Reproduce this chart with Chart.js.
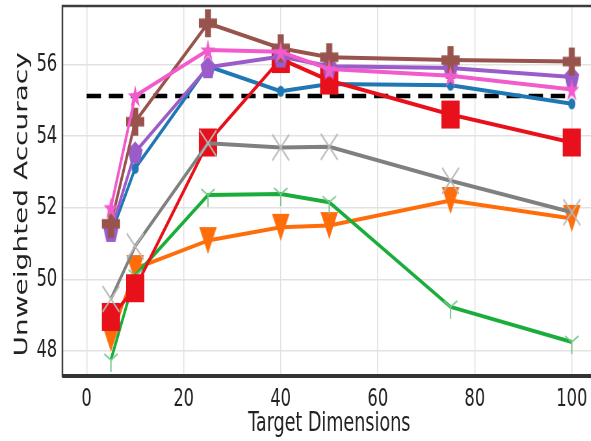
<!DOCTYPE html>
<html>
<head>
<meta charset="utf-8">
<script src="https://cdn.jsdelivr.net/npm/chart.js@4/dist/chart.umd.min.js"></script>
<style>
  html, body { margin: 0; padding: 0; background: #fff; overflow: hidden; }
  /* the figure is laid out wide, then squeezed horizontally */
  #wrap { position: absolute; left: 0; top: 0; width: 920px; height: 441px;
          transform: scaleX(0.65); transform-origin: 0 0; }
</style>
</head>
<body>
<div id="wrap"><canvas id="c"></canvas></div>
<script>
// ---- data ----
const dims = [5, 10, 25, 40, 50, 75, 100];
const xTicks = [0, 20, 40, 60, 80, 100];
const yTicks = [48, 50, 52, 54, 56];
const baselineDims = [0, 100];
const baselineAcc = 55.12;

const accBlue   = [51.25, 53.10, 55.95, 55.25, 55.45, 55.42, 54.90];
const accOrange = [48.35, 50.30, 51.08, 51.45, 51.50, 52.20, 51.70];
const accGreen  = [47.75, 50.10, 52.35, 52.38, 52.15, 49.23, 48.25];
const accRed    = [48.95, 49.75, 53.82, 56.15, 55.55, 54.60, 53.82];
const accPurple = [51.35, 53.55, 55.92, 56.22, 55.95, 55.90, 55.65];
const accBrown  = [51.55, 54.40, 57.15, 56.45, 56.20, 56.12, 56.08];
const accPink   = [52.00, 55.12, 56.40, 56.35, 55.87, 55.68, 55.30];
const accGray   = [49.45, 50.92, 53.80, 53.68, 53.70, 52.75, 51.87];

// ---- marker sprites ----
function sprite(size, draw) {
  const c = document.createElement('canvas');
  c.width = size; c.height = size;
  const g = c.getContext('2d');
  g.translate(size / 2, size / 2);
  draw(g);
  return c;
}
function polygon(g, pts, color) {
  g.beginPath();
  pts.forEach((p, i) => i ? g.lineTo(p[0], p[1]) : g.moveTo(p[0], p[1]));
  g.closePath();
  g.fillStyle = color; g.fill();
}
const mkCircle = (r, color) => sprite(Math.ceil(2 * r + 2), g => {
  g.beginPath(); g.arc(0, 0, r, 0, Math.PI * 2); g.fillStyle = color; g.fill();
});
const mkSquare = (s, color) => sprite(s + 2, g => { g.fillStyle = color; g.fillRect(-s / 2, -s / 2, s, s); });
const mkTriDown = (s, color) => sprite(s + 2, g => polygon(g, [[0, s / 2], [-s / 2, -s / 2], [s / 2, -s / 2]], color));
const mkPlus = (s, color) => sprite(s + 2, g => {
  const a = s / 2, b = s / 6;
  polygon(g, [[-b, -a], [b, -a], [b, -b], [a, -b], [a, b], [b, b], [b, a], [-b, a], [-b, b], [-a, b], [-a, -b], [-b, -b]], color);
});
const mkStar = (r, color) => sprite(Math.ceil(2 * r + 2), g => {
  const pts = [];
  for (let i = 0; i < 10; i++) {
    const rr = i % 2 ? r * 0.381966 : r;
    const ang = -Math.PI / 2 + i * Math.PI / 5;
    pts.push([rr * Math.cos(ang), rr * Math.sin(ang) + r * 0.1]);
  }
  polygon(g, pts, color);
});
const mkPentagon = (r, color) => sprite(Math.ceil(2 * r + 2), g => {
  const pts = [];
  for (let i = 0; i < 5; i++) {
    const ang = -Math.PI / 2 + i * 2 * Math.PI / 5;
    pts.push([r * Math.cos(ang), r * Math.sin(ang) + r * 0.1]);
  }
  polygon(g, pts, color);
});
const mkX = (h, color, lw) => sprite(2 * h + 4, g => {
  g.strokeStyle = color; g.lineWidth = lw;
  g.beginPath(); g.moveTo(-h, -h); g.lineTo(h, h); g.moveTo(h, -h); g.lineTo(-h, h); g.stroke();
});
const mkTriLines = (r, color, lw) => sprite(2 * r + 4, g => {
  g.strokeStyle = color; g.lineWidth = lw;
  g.beginPath();
  g.moveTo(0, 0); g.lineTo(0, r);
  g.moveTo(0, 0); g.lineTo(-0.866 * r, -0.5 * r);
  g.moveTo(0, 0); g.lineTo(0.866 * r, -0.5 * r);
  g.stroke();
});

const C = {
  blue: '#1f77b4', orange: '#ff6d0a', green: '#1aad3a', red: '#e8101a',
  purple: '#9a5cc8', brown: '#98544c', pink: '#f25bcb', gray: '#808080'
};

function series(label, values, color, marker, order) {
  return {
    label,
    data: dims.map((x, i) => ({ x, y: values[i] })),
    borderColor: color,
    backgroundColor: color,
    borderWidth: 4,
    pointStyle: marker,
    pointRadius: 10,
    pointHoverRadius: 10,
    order
  };
}

const datasets = [
  series('Gray',   accGray,   C.gray,   mkX(13, '#b8b8b8', 2), 1),
  series('Pink',   accPink,   C.pink,   mkStar(12, C.pink), 2),
  series('Brown',  accBrown,  C.brown,  mkPlus(28, C.brown), 3),
  series('Purple', accPurple, C.purple, mkPentagon(12, C.purple), 4),
  series('Red',    accRed,    C.red,    mkSquare(28, C.red), 5),
  series('Green',  accGreen,  C.green,  mkTriLines(12, '#78c88a', 2), 6),
  series('Orange', accOrange, C.orange, mkTriDown(27, C.orange), 7),
  series('Blue',   accBlue,   C.blue,   mkCircle(5.5, C.blue), 8),
  {
    label: 'Baseline',
    data: baselineDims.map(x => ({ x, y: baselineAcc })),
    borderColor: '#000',
    borderWidth: 4.5,
    borderDash: [22, 12],
    pointRadius: 0,
    order: 9
  }
];

// axes frame drawn over the plot
const frame = {
  id: 'frame',
  afterDatasetsDraw(chart) {
    const { ctx, chartArea: a } = chart;
    ctx.save();
    ctx.strokeStyle = '#3c3c3c';
    ctx.lineWidth = 2.5;
    ctx.strokeRect(a.left, a.top, a.right - a.left, a.bottom - a.top);
    ctx.strokeStyle = '#333';
    ctx.lineWidth = 4;
    ctx.beginPath(); ctx.moveTo(a.left, a.bottom); ctx.lineTo(a.right, a.bottom); ctx.stroke();
    ctx.restore();
  }
};

const tickFont = { family: 'DejaVu Sans', size: 25 };
const titleFont = { family: 'DejaVu Sans', size: 27 };
const gridStyle = { color: '#e2e2e2', lineWidth: 1.5, drawTicks: false };

new Chart(document.getElementById('c'), {
  type: 'line',
  data: { datasets },
  options: {
    responsive: true,
    maintainAspectRatio: false,
    devicePixelRatio: 1,
    animation: false,
    layout: { autoPadding: false, padding: { top: 6, right: 3, left: 0, bottom: 0 } },
    elements: { line: { tension: 0, fill: false, borderJoinStyle: 'round' } },
    plugins: { legend: { display: false }, tooltip: { enabled: false } },
    scales: {
      x: {
        type: 'linear', min: -5, max: 105,
        afterBuildTicks: s => { s.ticks = xTicks.map(v => ({ value: v })); },
        afterFit: s => { s.height = 65; s.paddingLeft = 0; s.paddingRight = 0; },
        grid: gridStyle,
        border: { display: false },
        ticks: { font: tickFont, color: '#222', padding: 8, maxRotation: 0, autoSkip: false },
        title: { display: true, text: 'Target Dimensions', font: titleFont, color: '#222',
                 padding: { top: 0, bottom: 1 } }
      },
      y: {
        type: 'linear', min: 47.3, max: 57.63,
        afterBuildTicks: s => { s.ticks = yTicks.map(v => ({ value: v })); },
        afterFit: s => { s.width = 96; s.paddingTop = 0; s.paddingBottom = 0; },
        grid: gridStyle,
        border: { display: false },
        ticks: { font: tickFont, color: '#222', padding: 8 },
        title: { display: true, text: 'Unweighted Accuracy\u00a0\u00a0\u00a0', font: { family: 'DejaVu Sans', size: 28 },
                 color: '#222', padding: { top: 18, bottom: 0 } }
      }
    }
  },
  plugins: [frame]
});
</script>
</body>
</html>
